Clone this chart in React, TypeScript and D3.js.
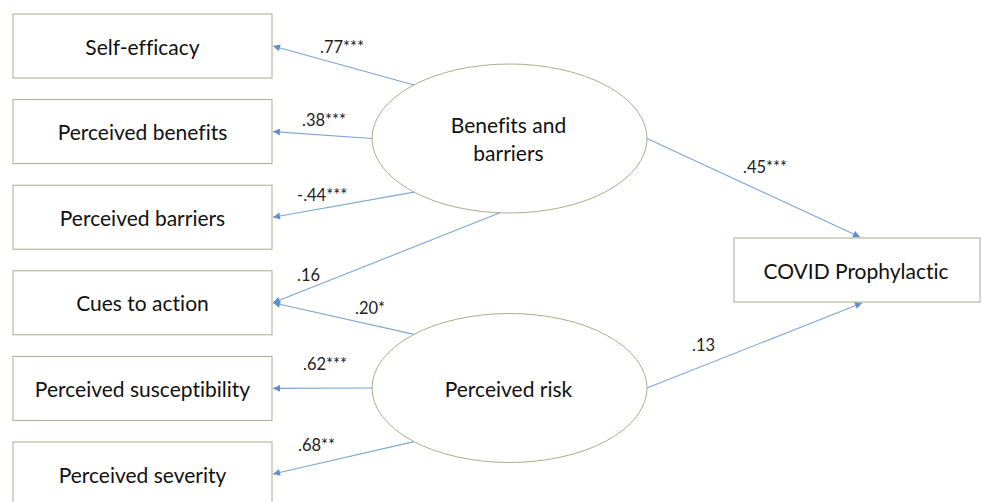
import React from "react";
import * as d3 from "d3";

// ---- data ----
const indicators = [
  "Self-efficacy",
  "Perceived benefits",
  "Perceived barriers",
  "Cues to action",
  "Perceived susceptibility",
  "Perceived severity",
];
const latents = ["Benefits and barriers", "Perceived risk"];
const latentLines = [["Benefits and", "barriers"], ["Perceived risk"]];
const outcome = "COVID Prophylactic";

// loadings: [latent index, indicator index, label]
const loadingLatent = [0, 0, 0, 0, 1, 1, 1];
const loadingIndicator = [0, 1, 2, 3, 3, 4, 5];
const loadingLabels = [".77***", ".38***", "-.44***", ".16", ".20*", ".62***", ".68**"];

// structural paths: latent -> outcome
const pathLatent = [0, 1];
const pathLabels = [".45***", ".13"];

// ---- layout ----
const W = 982;
const H = 502;
const boxX = 13;
const boxW = 259;
const boxH = 64;
const yBand = d3
  .scaleBand<string>()
  .domain(indicators)
  .range([14, 14 + 85.6 * indicators.length])
  .paddingInner(0);

const ell = { cx: 509.5, rx: 137.5, ry: 74.5 };
const latentY = d3.scalePoint<string>().domain(latents).range([138.5, 388]);

// angle (deg) on ellipse where each loading arrow leaves
const loadingAngles = [-134, 180, 134, 94, -134, 180, 134];
const loadingLabelPos = [
  [320, 47],
  [302, 120],
  [297, 195],
  [297, 275],
  [355, 308],
  [303, 364],
  [298, 445],
];
const outBox = { x: 734, y: 238, w: 246, h: 64 };
const pathLabelPos = [
  [743, 167],
  [692, 345],
];

const lineColor = "#7ea6d6";
const headColor = "#5b8fd0";
const borderColor = "#a6b08b";
const font = "Lato, 'Open Sans', sans-serif";

function ellPoint(li: number, deg: number) {
  const a = (deg * Math.PI) / 180;
  return [ell.cx + ell.rx * Math.cos(a), (latentY(latents[li]) as number) + ell.ry * Math.sin(a)];
}

export default function App() {
  const line = d3.line();
  const loadingPaths = loadingLabels.map((lab, i) => {
    const from = ellPoint(loadingLatent[i], loadingAngles[i]);
    const ind = indicators[loadingIndicator[i]];
    const to: [number, number] = [boxX + boxW + 1, (yBand(ind) as number) + boxH / 2];
    return { d: line([from as [number, number], to]) as string, lab, pos: loadingLabelPos[i] };
  });
  const structPaths = pathLabels.map((lab, i) => {
    const from = ellPoint(pathLatent[i], 0);
    const to: [number, number] = i === 0 ? [860, outBox.y - 1] : [862, outBox.y + outBox.h + 1];
    return { d: line([from as [number, number], to]) as string, lab, pos: pathLabelPos[i] };
  });

  return (
    <svg
      width={W}
      height={H}
      style={{ position: "absolute", left: 0, top: 0, background: "#fff", fontVariantLigatures: "none" }}
      fontFamily={font}
    >
      <defs>
        <marker
          id="arr"
          viewBox="0 0 10 10"
          refX="10"
          refY="5"
          markerWidth="9"
          markerHeight="7"
          markerUnits="userSpaceOnUse"
          orient="auto"
        >
          <path d="M0,0 L10,5 L0,10 Z" fill={headColor} />
        </marker>
      </defs>

      {indicators.map((name) => {
        const y = yBand(name) as number;
        return (
          <g key={name}>
            <rect x={boxX} y={y} width={boxW} height={boxH} fill="#fff" stroke={borderColor} strokeWidth={1} />
            <text
              x={boxX + boxW / 2}
              y={y + boxH / 2}
              textAnchor="middle"
              dominantBaseline="central"
              fontSize={21}
              fill="#111"
            >
              {name}
            </text>
          </g>
        );
      })}

      <rect x={outBox.x} y={outBox.y} width={outBox.w} height={outBox.h} fill="#fff" stroke={borderColor} />
      <text
        x={outBox.x + outBox.w / 2 - 1}
        y={outBox.y + outBox.h / 2}
        textAnchor="middle"
        dominantBaseline="central"
        fontSize={21}
        fill="#111"
      >
        {outcome}
      </text>

      {latents.map((name, i) => {
        const cy = latentY(name) as number;
        const lines = latentLines[i];
        const lh = 28;
        return (
          <g key={name}>
            <ellipse cx={ell.cx} cy={cy} rx={ell.rx} ry={ell.ry} fill="#fff" stroke={borderColor} />
            {lines.map((t, j) => (
              <text
                key={t}
                x={ell.cx - 1}
                y={cy + (j - (lines.length - 1) / 2) * lh}
                textAnchor="middle"
                dominantBaseline="central"
                fontSize={21}
                fill="#111"
              >
                {t}
              </text>
            ))}
          </g>
        );
      })}

      {[...loadingPaths, ...structPaths].map((p, i) => (
        <g key={i}>
          <path d={p.d} stroke={lineColor} strokeWidth={1.1} fill="none" markerEnd="url(#arr)" />
          <text x={p.pos[0]} y={p.pos[1]} dominantBaseline="central" fontSize={16.5} fill="#222">
            {p.lab}
          </text>
        </g>
      ))}
    </svg>
  );
}
